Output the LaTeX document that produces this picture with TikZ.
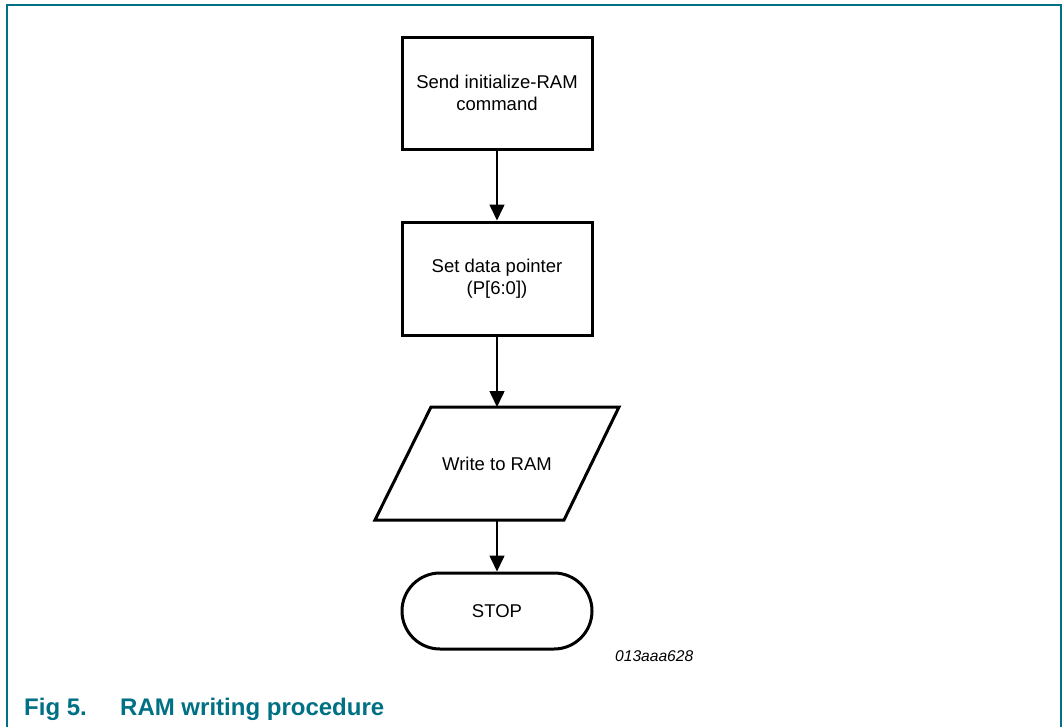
\documentclass[tikz,border=0pt]{standalone}
\usepackage{fontspec}
\setmainfont{Liberation Sans}
\usetikzlibrary{arrows.meta}
\definecolor{nxpteal}{RGB}{0,112,132}
\tikzset{
  boxline/.style={draw=black, line width=3pt, line join=miter, fill=white},
  procbox/.style={boxline, minimum width=190pt, minimum height=112pt, align=center, inner sep=0pt,
    font=\fontsize{18.5}{22}\selectfont},
  termbox/.style={boxline, rounded corners=38pt, minimum width=190pt, minimum height=76pt, inner sep=0pt,
    font=\fontsize{18.5}{22}\selectfont},
  flow/.style={draw=black, line width=1.6pt, -{Triangle[width=15pt,length=16pt]}},
  frameline/.style={draw=nxpteal, line width=2pt},
}
\begin{document}
\begin{tikzpicture}[x=1pt,y=-1pt]
\useasboundingbox (0,0) rectangle (1063,726);
% frame
\coordinate (fbl) at (7,727);
\coordinate (ftl) at (7,4.5);
\coordinate (ftr) at (1061,4.5);
\coordinate (fbr) at (1061,727);
\draw[frameline] (fbl) -- (ftl) -- (ftr) -- (fbr);
% nodes
\node[procbox] (init) at (497,93) {Send initialize-RAM\\command};
\node[procbox, minimum height=113pt] (ptr) at (497,278.5) {Set data pointer\\(P[6:0])};
\draw[boxline] (431,407) -- (619,407) -- (564,520) -- (375,520) -- cycle;
\node[inner sep=0pt, font=\fontsize{18.5}{22}\selectfont] (write) at (497,463.5) {Write to RAM};
\coordinate (wtop) at (497,407);
\coordinate (wbot) at (497,520);
\node[termbox] (stop) at (497,611) {STOP};
% connectors
\draw[flow] (init.south) -- (ptr.north);
\draw[flow] (ptr.south) -- (wtop);
\draw[flow] (wbot) -- (stop.north);
% labels
\node[anchor=base west, inner sep=0pt, font=\fontsize{15.6}{18}\selectfont\itshape] (code) at (615,661) {013aaa628};
\node[anchor=base west, inner sep=0pt, text=nxpteal, font=\fontsize{24}{29}\selectfont\bfseries] (fig) at (24,715) {Fig 5.};
\node[anchor=base west, inner sep=0pt, text=nxpteal, font=\fontsize{24}{29}\selectfont\bfseries] (cap) at (120,715) {RAM writing procedure};
\end{tikzpicture}
\end{document}
